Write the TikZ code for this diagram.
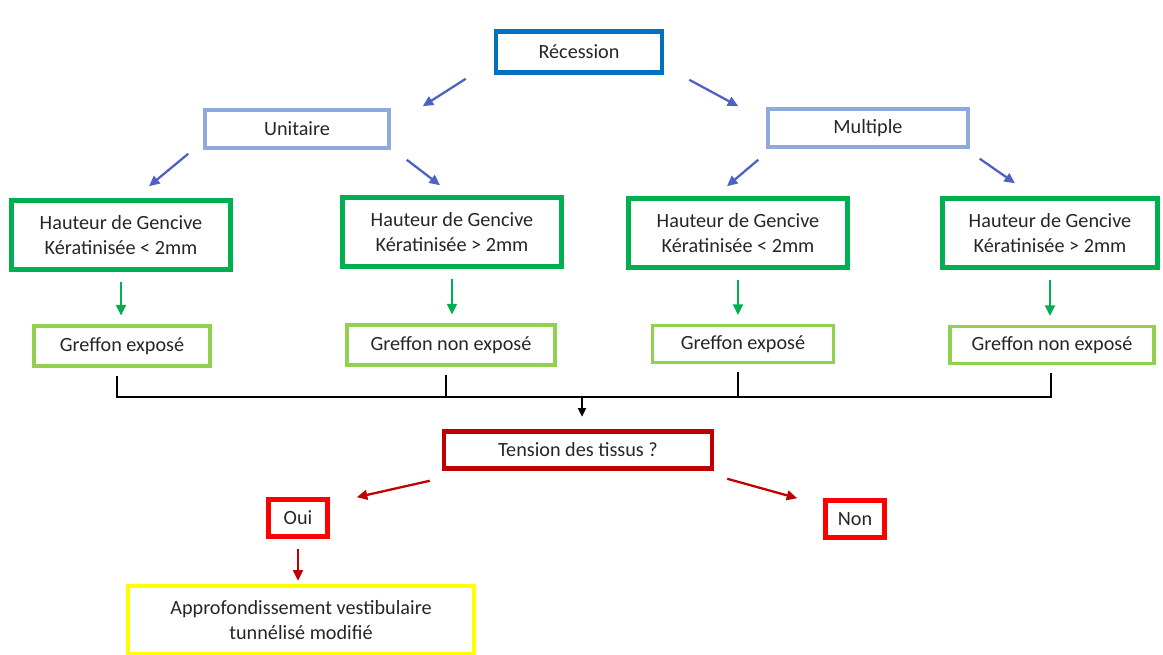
\documentclass[tikz,border=0pt]{standalone}
\usepackage{fontspec}
\setmainfont{Carlito}
\usetikzlibrary{arrows.meta,calc}

\definecolor{recblue}{RGB}{0,112,192}
\definecolor{lightblue}{RGB}{142,169,219}
\definecolor{arrblue}{RGB}{79,98,196}
\definecolor{hgreen}{RGB}{0,176,80}
\definecolor{lgreen}{RGB}{146,208,80}
\definecolor{darkred}{RGB}{192,0,0}
\definecolor{brightred}{RGB}{255,0,0}
\definecolor{yell}{RGB}{255,255,0}

\begin{document}
\begin{tikzpicture}[
        x=0.02cm, y=-0.02cm,
        every node/.style={font=\fontsize{11.5}{14.2}\selectfont, text=black!85},
        box/.style={draw, rectangle, align=center, inner sep=2pt},
        rec box/.style={box, draw=recblue, line width=2.6pt, minimum width=3.32cm, minimum height=0.82cm},
        kind box/.style={box, draw=lightblue, line width=2pt, minimum height=0.76cm},
        height box/.style={box, draw=hgreen, line width=2.6pt, minimum width=4.38cm, minimum height=1.38cm},
        graft box/.style={box, draw=lgreen, line width=2pt, minimum height=0.8cm},
        tension box/.style={box, draw=darkred, line width=2.6pt, minimum width=5.36cm, minimum height=0.74cm},
        answer box/.style={box, draw=brightred, line width=2.6pt, minimum width=1.18cm, minimum height=0.74cm},
        result box/.style={box, draw=yell, line width=2pt, minimum width=6.92cm, minimum height=1.36cm},
        blue arrow/.style={arrblue, line width=1.3pt, -{Triangle[length=6pt,width=5.5pt]}},
        green arrow/.style={hgreen, line width=1.3pt, -{Triangle[length=6pt,width=5.5pt]}},
        red arrow/.style={darkred, line width=1.3pt, -{Triangle[length=6pt,width=5.5pt]}},
        bus/.style={black, line width=1.2pt},
    ]

    \useasboundingbox (0,0) rectangle (1163,655);

    \node[rec box] (rec) at (579,52) {Récession};

    \node[kind box, minimum width=3.68cm] (uni) at (297,129) {Unitaire};
    \node[kind box, minimum width=4.0cm] (mul) at (868,128) {Multiple};

    \node[height box] (h1) at (121,235) {Hauteur de Gencive\\Kératinisée < 2mm};
    \node[height box] (h2) at (452,232) {Hauteur de Gencive\\Kératinisée > 2mm};
    \node[height box] (h3) at (738,233) {Hauteur de Gencive\\Kératinisée < 2mm};
    \node[height box, minimum width=4.3cm] (h4) at (1050,233) {Hauteur de Gencive\\Kératinisée > 2mm};

    \node[graft box, minimum width=3.52cm] (g1) at (122,346) {Greffon exposé};
    \node[graft box, minimum width=4.16cm] (g2) at (451,345) {Greffon non exposé};
    \node[graft box, minimum width=3.62cm, minimum height=0.74cm] (g3) at (743,344) {Greffon exposé};
    \node[graft box, minimum width=4.08cm, minimum height=0.74cm] (g4) at (1052,345) {Greffon non exposé};

    \node[tension box] (tens) at (578,450) {Tension des tissus ?};

    \node[answer box] (oui) at (298,518) {Oui};
    \node[answer box] (non) at (855,519) {Non};

    \node[result box] (apr) at (301,620) {Approfondissement vestibulaire\\tunnélisé modifié};

    \coordinate (bus) at (582,397);

    \draw[blue arrow] ($(rec.south west)+(-28,4)$) -- ($(uni.north east)+(32,-2)$);
    \draw[blue arrow] ($(rec.south east)+(25,5)$) -- ($(mul.north west)+(-28,-1)$);
    \draw[blue arrow] ($(uni.south west)+(-15,4)$) -- ($(h1.north)+(28,-12)$);
    \draw[blue arrow] ($(uni.south east)+(16,10)$) -- ($(h2.north)+(-12,-10)$);
    \draw[blue arrow] ($(mul.south west)+(-8,11)$) -- ($(h3.north)+(-11,-10)$);
    \draw[blue arrow] ($(mul.south east)+(10,10)$) -- ($(h4.north)+(-35,-13)$);

    \draw[green arrow, shorten <=6pt, shorten >=5pt] (h1.south) -- (h1.south |- g1.north);
    \draw[green arrow, shorten <=6pt, shorten >=5pt] (h2.south) -- (h2.south |- g2.north);
    \draw[green arrow, shorten <=6pt, shorten >=5pt] (h3.south) -- (h3.south |- g3.north);
    \draw[green arrow, shorten <=6pt, shorten >=5pt] (h4.south) -- (h4.south |- g4.north);

    \draw[bus] ($(g1.south)+(-5,8)$) |- (bus) -| ($(g4.south)+(-1,8)$);
    \draw[bus] ($(g2.south)+(-5,8)$) |- (bus);
    \draw[bus] ($(g3.south)+(-5,8)$) |- (bus);
    \draw[bus, -{Triangle[length=5pt,width=4.5pt]}, shorten >=7pt] (bus) -- (bus |- tens.north);

    \draw[red arrow] ($(tens.south west)+(-12,10)$) -- ($(oui.north east)+(27,0)$);
    \draw[red arrow] ($(tens.south east)+(13,8)$) -- ($(non.north west)+(-26,0)$);
    \draw[red arrow, shorten <=6pt, shorten >=2pt] (oui.south) -- (oui.south |- apr.north);

\end{tikzpicture}
\end{document}
